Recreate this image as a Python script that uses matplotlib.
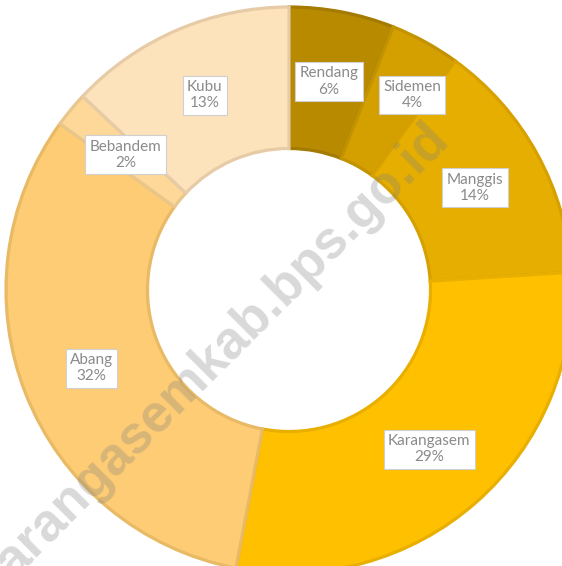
import numpy as np
import matplotlib
matplotlib.use('Agg')
import matplotlib.pyplot as plt

plt.rcParams['font.family'] = ['Lato', 'DejaVu Sans']

# data
kecamatan = ['Rendang', 'Sidemen', 'Manggis', 'Karangasem', 'Abang', 'Bebandem', 'Kubu']
persen = [6, 4, 14, 29, 32, 2, 13]
warna = ['#B78A00', '#D4A000', '#E6AE00', '#FFC000', '#FDCC74', '#FED899', '#FDE3BC']
tepi = ['#A47B00', '#C39200', '#D6A100', '#E8AF00', '#E8BA66', '#E8C68C', '#E6CBA6']

R = 283.0  # outer radius in px
cx, cy = 289.0, 290.0  # centre in px from top-left
W, H = 562, 566

fig = plt.figure(figsize=(W / 100, H / 100), dpi=100)
ax = fig.add_axes([0, 0, 1, 1])

wedges, _ = ax.pie(persen, colors=warna, startangle=90, counterclock=False,
                   radius=1.0, wedgeprops=dict(width=0.5, linewidth=2.3))
for w, ec in zip(wedges, tepi):
    w.set_edgecolor(ec)

# pie() resets the limits, so set them afterwards
ax.set_xlim(-cx / R, (W - cx) / R)
ax.set_ylim(-(H - cy) / R, cy / R)
ax.axis('off')

# geser label yang bertabrakan (px)
geser = {'Sidemen': (21, -9)}

cum = np.cumsum([0] + persen[:-1])
for nama, p, c in zip(kecamatan, persen, cum):
    ang = np.deg2rad(90 - (c + p / 2) * 3.6)
    x = 0.75 * np.cos(ang)
    y = 0.75 * np.sin(ang)
    dx, dy = geser.get(nama, (0, 0))
    x += dx / R
    y -= dy / R
    ax.text(x, y, '%s\n%d%%' % (nama, p), ha='center', va='center',
            fontsize=11, color='#8A8A8A', linespacing=1.2, zorder=5,
            bbox=dict(boxstyle='square,pad=0.28', fc='white', ec='#D0D0D0', lw=0.8))

# watermark (di bawah label)
ax.text(-0.275, -0.245, 'karangasemkab.bps.go.id', rotation=45, ha='center', va='center',
        fontsize=38, fontweight='bold', color='#808080', alpha=0.3,
        family='Liberation Sans', zorder=4)

fig.savefig('out.png', dpi=100)
